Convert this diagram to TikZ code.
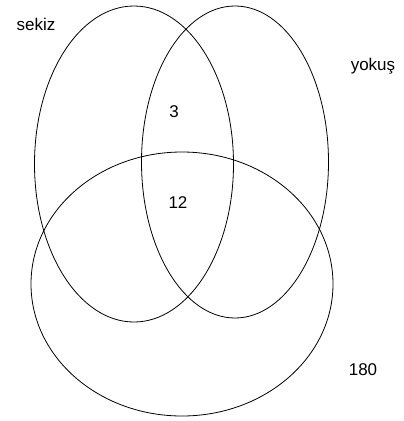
\documentclass[tikz,border=0pt]{standalone}
\usepackage{fontspec}
\setmainfont{Liberation Sans}
\usetikzlibrary{shapes.geometric}
\begin{document}
\begin{tikzpicture}[x=1pt, y=-1pt, line width=0.8pt]
\useasboundingbox (0,0) rectangle (404,421);
\node[draw, ellipse, inner sep=0pt, minimum width=199pt, minimum height=316pt] (sekiz) at (134,164) {};
\node[draw, ellipse, inner sep=0pt, minimum width=187pt, minimum height=312pt] (yokus) at (235,162) {};
\node[draw, ellipse, inner sep=0pt, minimum width=302pt, minimum height=264pt] (alt) at (182,284) {};

\node[font=\fontsize{17}{20}\selectfont] (l1) at (36,24) {sekiz};
\node[font=\fontsize{17}{20}\selectfont] (l2) at (373,66) {yokuş};
\node[font=\fontsize{17}{20}\selectfont] (n1) at (174,112) {3};
\node[font=\fontsize{17}{20}\selectfont] (n2) at (178,203) {12};
\node[font=\fontsize{17}{20}\selectfont] (n3) at (363,370) {180};
\end{tikzpicture}
\end{document}
